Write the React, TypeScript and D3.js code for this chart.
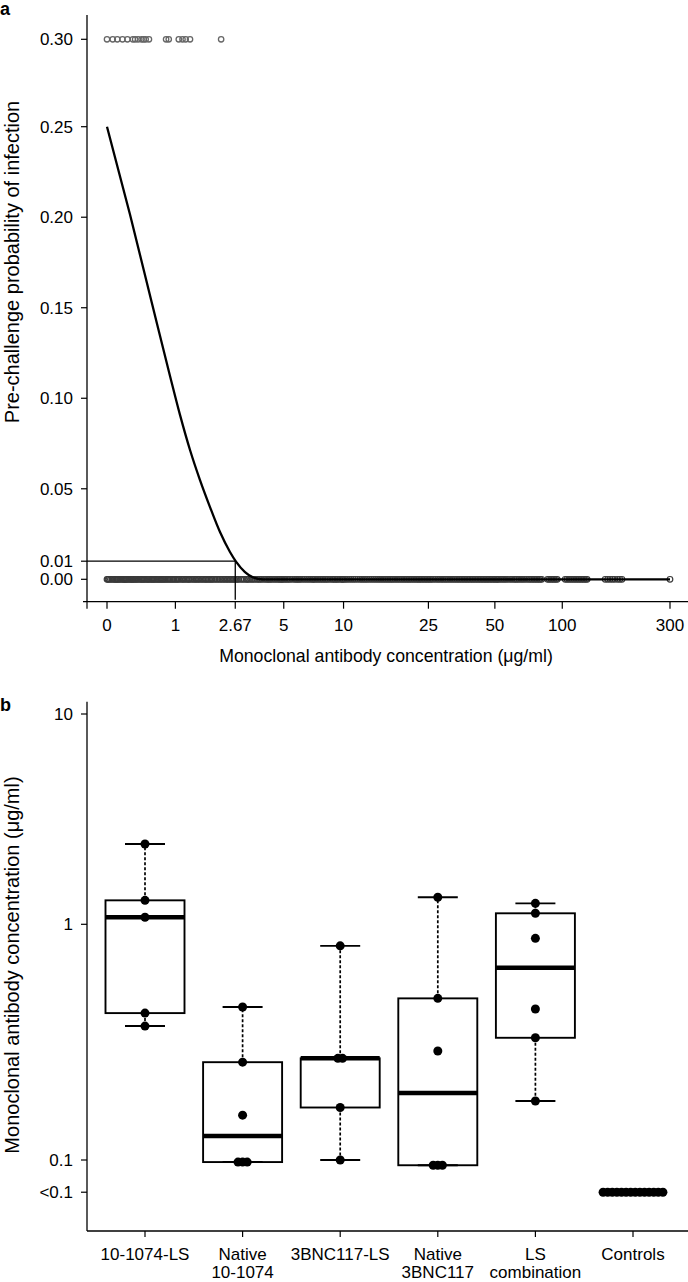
import React from "react";
import * as d3 from "d3";

const W = 688;
const H = 1282;
const FONT = "'Liberation Sans', Arial, Helvetica, sans-serif";

// ---------- Panel a data ----------
const xTickValuesA = [0, 1, 2.67, 5, 10, 25, 50, 100, 300];
const xTickLabelsA = ["0", "1", "2.67", "5", "10", "25", "50", "100", "300"];
const yTickValuesA = [0, 0.01, 0.05, 0.1, 0.15, 0.2, 0.25, 0.3];
const yTickLabelsA = ["0.00", "0.01", "0.05", "0.10", "0.15", "0.20", "0.25", "0.30"];

const infectedProb = 0.3;
const uninfectedProb = 0;

const infectedConc = [
  0, 0.06, 0.11, 0.17, 0.23, 0.3, 0.33, 0.37, 0.42, 0.45, 0.48, 0.53, 0.82, 0.87, 1.07, 1.15,
  1.22, 1.32, 2.18,
];

const uninfectedConc = [
  0, 0.01, 0.02, 0.035, 0.05, 0.065, 0.08, 0.09, 0.1, 0.11, 0.12, 0.135, 0.15, 0.165, 0.18, 0.19,
  0.2, 0.21, 0.22, 0.235, 0.25, 0.265, 0.28, 0.29, 0.3, 0.315, 0.33, 0.345, 0.36, 0.38, 0.4, 0.415,
  0.43, 0.445, 0.46, 0.48, 0.5, 0.515, 0.53, 0.55, 0.57, 0.585, 0.6, 0.62, 0.64, 0.66, 0.68, 0.7,
  0.72, 0.74, 0.76, 0.78, 0.8, 0.825, 0.85, 0.875, 0.9, 0.925, 0.95, 0.975, 1.0, 1.03, 1.05, 1.08,
  1.12, 1.15, 1.18, 1.21, 1.25, 1.28, 1.3, 1.34, 1.38, 1.42, 1.45, 1.49, 1.52, 1.56, 1.6, 1.64,
  1.68, 1.72, 1.75, 1.79, 1.83, 1.87, 1.9, 1.95, 2.0, 2.05, 2.1, 2.15, 2.2, 2.25, 2.3, 2.35, 2.4,
  2.45, 2.5, 2.55, 2.6, 2.65, 2.7, 2.75, 2.8, 2.88, 2.95, 3.02, 3.1, 3.15, 3.2, 3.28, 3.35, 3.42,
  3.5, 3.58, 3.65, 3.72, 3.8, 3.9, 4.0, 4.08, 4.15, 4.22, 4.3, 4.4, 4.5, 4.6, 4.7, 4.78, 4.85,
  4.92, 5.0, 5.1, 5.2, 5.3, 5.4, 5.55, 5.7, 5.8, 5.9, 6.0, 6.1, 6.25, 6.4, 6.55, 6.7, 6.85, 7.0,
  7.1, 7.2, 7.35, 7.5, 7.65, 7.8, 7.95, 8.1, 8.25, 8.4, 8.6, 8.8, 8.95, 9.1, 9.25, 9.4, 9.6, 9.8,
  9.9, 10, 10.2, 10.4, 10.65, 10.9, 11.15, 11.4, 11.7, 12, 12.25, 12.5, 12.75, 13, 13.3, 13.6,
  13.9, 14.2, 14.5, 14.8, 15.1, 15.4, 15.7, 16, 16.3, 16.6, 16.9, 17.2, 17.55, 17.9, 18.25, 18.6,
  18.95, 19.3, 19.65, 20, 20.35, 20.7, 21.1, 21.5, 21.9, 22.3, 22.65, 23, 23.4, 23.8, 24.2, 24.6,
  25, 25.4, 25.8, 26.3, 26.9, 27.5, 28, 28.6, 29.1, 29.7, 30.2, 30.8, 31.4, 32, 32.6, 33.2, 33.8,
  34.4, 35, 35.6, 36.2, 36.8, 37.4, 38, 38.6, 39.3, 39.9, 40.6, 41.3, 42, 42.7, 43.4, 44.1, 44.8,
  45.5, 46.2, 46.9, 47.7, 48.4, 49.2, 49.9, 50.7, 51.3, 52, 53, 54, 55, 56, 57.2, 58.5, 59.7, 61,
  62, 63, 64.2, 65.5, 66.7, 68, 69.5, 71, 72.2, 73.5, 74.7, 76, 77.2, 78.5, 79.7, 81, 86, 87.5,
  89, 90.5, 92, 93.5, 95, 103, 105, 107, 109, 111, 113, 115, 117, 119, 121, 123, 125, 127, 129,
  155, 159, 163, 167, 171, 176, 180, 184, 300,
];

const curveConc = [
  0, 0.2626, 0.578, 0.894, 1.096, 1.32, 1.567, 1.841, 2.144, 2.479, 2.698, 3.051, 3.393, 3.862,
  10, 50, 300,
];
const curveProb = [
  0.25, 0.2015, 0.1523, 0.1123, 0.0908, 0.0714, 0.0548, 0.0399, 0.0261, 0.0151, 0.0098, 0.004,
  0.0011, 0, 0, 0, 0,
];

const thresholdConc = 2.67;
const thresholdProb = 0.01;

// ---------- Panel b data ----------
const groupLines = [
  ["10-1074-LS"],
  ["Native", "10-1074"],
  ["3BNC117-LS"],
  ["Native", "3BNC117"],
  ["LS", "combination"],
  ["Controls"],
];
const groupKeys = ["10-1074-LS", "Native 10-1074", "3BNC117-LS", "Native 3BNC117", "LS combination", "Controls"];
const belowLimit = 0.073; // plotted position of "<0.1"

const g1074LS = [2.41, 1.3, 1.08, 0.42, 0.37];
const gNative1074 = [0.446, 0.26, 0.155, 0.098, 0.098, 0.098];
const g3BNCLS = [0.81, 0.27, 0.27, 0.167, 0.1];
const gNative3BNC = [1.344, 0.485, 0.29, 0.095, 0.095, 0.095];
const gLSCombo = [1.258, 1.128, 0.872, 0.437, 0.33, 0.178];
const gControls = [
  belowLimit, belowLimit, belowLimit, belowLimit, belowLimit, belowLimit, belowLimit,
  belowLimit, belowLimit, belowLimit, belowLimit, belowLimit, belowLimit, belowLimit,
];
const groupValues = [g1074LS, gNative1074, g3BNCLS, gNative3BNC, gLSCombo, gControls];
const groupHasBox = [true, true, true, true, true, false];

const yTickValuesB = [10, 1, 0.1, belowLimit];
const yTickLabelsB = ["10", "1", "0.1", "<0.1"];

function fivenum(vals: number[]) {
  const x = [...vals].sort((a, b) => a - b);
  const n = x.length;
  const n4 = Math.floor((n + 3) / 2) / 2;
  const d = [1, n4, (n + 1) / 2, n + 1 - n4, n];
  return d.map((di) => 0.5 * (x[Math.floor(di) - 1] + x[Math.ceil(di) - 1]));
}

export default function App() {
  // ----- panel a scales -----
  const xA = d3.scaleSymlog().constant(1).domain([0, 300]).range([107, 670]);
  const yA = d3.scaleLinear().domain([0, 0.25]).range([579.3, 126.7]);
  const axisAX = 87;
  const axisAY = 601.7;
  const yPos30 = 39.3;

  const curvePath = d3
    .line<number>()
    .x((_, i) => xA(curveConc[i]))
    .y((d) => yA(d))
    .curve(d3.curveMonotoneX)(curveProb) as string;

  // ----- panel b scales -----
  const xB = d3.scalePoint<string>().domain(groupKeys).range([145, 633]);
  const yB = d3.scaleLog().domain([0.1, 1, 10]).range([1160, 924.3, 714]);
  const boxW = 79;
  const capW = 40;
  const axisBX = 87;
  const axisBY = 1231;
  const tieGap = 4.6;

  return (
    <svg
      width={W}
      height={H}
      style={{ position: "absolute", left: 0, top: 0, background: "#fff" }}
      fontFamily={FONT}
    >
      <rect width={W} height={H} fill="#fff" />
      {/* ================= Panel a ================= */}
      <text x={0} y={15} fontSize={18} fontWeight="bold">a</text>

      {/* y axis */}
      <line x1={axisAX} x2={axisAX} y1={15} y2={axisAY} stroke="#000" strokeWidth={1.3} />
      {yTickValuesA.map((v, i) => {
        const y = v === infectedProb ? yPos30 : yA(v);
        return (
          <g key={"ya" + i}>
            <line x1={axisAX - 6} x2={axisAX} y1={y} y2={y} stroke="#000" strokeWidth={1.2} />
            <text x={73} y={y + 6} fontSize={17} textAnchor="end">
              {yTickLabelsA[i]}
            </text>
          </g>
        );
      })}
      <text transform={`translate(18.5,262) rotate(-90)`} fontSize={20} textAnchor="middle">
        Pre-challenge probability of infection
      </text>

      {/* x axis */}
      <line x1={83} x2={W} y1={axisAY} y2={axisAY} stroke="#000" strokeWidth={1.3} />
      <line x1={axisAX} x2={axisAX} y1={axisAY} y2={axisAY + 7} stroke="#000" strokeWidth={1.2} />
      {xTickValuesA.map((v, i) => (
        <g key={"xa" + i}>
          <line x1={xA(v)} x2={xA(v)} y1={axisAY} y2={axisAY + 7} stroke="#000" strokeWidth={1.2} />
          <text x={xA(v)} y={630.7} fontSize={17} textAnchor="middle">
            {xTickLabelsA[i]}
          </text>
        </g>
      ))}
      <text x={386} y={662} fontSize={17.7} textAnchor="middle">
        Monoclonal antibody concentration (μg/ml)
      </text>

      {/* points */}
      {uninfectedConc.map((c, i) => (
        <circle key={"u" + i} cx={xA(c)} cy={yA(uninfectedProb)} r={2.8} fill="none" stroke="#3a3a3a" strokeWidth={1.2} />
      ))}
      {infectedConc.map((c, i) => (
        <circle key={"inf" + i} cx={xA(c)} cy={yPos30} r={2.7} fill="none" stroke="#666" strokeWidth={1.3} />
      ))}

      {/* threshold lines */}
      <line x1={axisAX} x2={xA(thresholdConc)} y1={yA(thresholdProb)} y2={yA(thresholdProb)} stroke="#000" strokeWidth={1.3} />
      <line x1={xA(thresholdConc)} x2={xA(thresholdConc)} y1={yA(thresholdProb)} y2={axisAY - 2} stroke="#000" strokeWidth={1.3} />

      {/* fitted curve */}
      <path d={curvePath} fill="none" stroke="#000" strokeWidth={2.3} />

      {/* ================= Panel b ================= */}
      <text x={0} y={711} fontSize={18} fontWeight="bold">b</text>

      <line x1={axisBX} x2={axisBX} y1={701.7} y2={axisBY} stroke="#000" strokeWidth={1.3} />
      {yTickValuesB.map((v, i) => (
        <g key={"yb" + i}>
          <line x1={axisBX - 6} x2={axisBX} y1={yB(v)} y2={yB(v)} stroke="#000" strokeWidth={1.2} />
          <text x={73} y={yB(v) + 6} fontSize={17} textAnchor="end">
            {yTickLabelsB[i]}
          </text>
        </g>
      ))}
      <text transform={`translate(18.5,965) rotate(-90)`} fontSize={20} textAnchor="middle">
        Monoclonal antibody concentration (μg/ml)
      </text>

      <line x1={axisBX} x2={W} y1={axisBY} y2={axisBY} stroke="#000" strokeWidth={1.3} />
      {groupKeys.map((k, i) => (
        <g key={"xb" + i}>
          <line x1={xB(k)!} x2={xB(k)!} y1={axisBY} y2={axisBY + 6} stroke="#000" strokeWidth={1.2} />
          {groupLines[i].map((ln, j) => (
            <text key={j} x={xB(k)!} y={1260 + j * 18} fontSize={17} textAnchor="middle">
              {ln}
            </text>
          ))}
        </g>
      ))}

      {groupKeys.map((k, gi) => {
        const vals = groupValues[gi];
        const cx = xB(k)!;
        const f = fivenum(vals);
        const counts = d3.rollup(vals, (v) => v.length, (d) => d);
        const seen = new Map<number, number>();
        return (
          <g key={"box" + gi}>
            {groupHasBox[gi] && (
              <g>
                <line x1={cx} x2={cx} y1={yB(f[3])} y2={yB(f[4])} stroke="#000" strokeWidth={1.7} strokeDasharray="3,2" />
                <line x1={cx} x2={cx} y1={yB(f[1])} y2={yB(f[0])} stroke="#000" strokeWidth={1.7} strokeDasharray="3,2" />
                <line x1={cx - capW / 2} x2={cx + capW / 2} y1={yB(f[4])} y2={yB(f[4])} stroke="#000" strokeWidth={1.9} />
                <line x1={cx - capW / 2} x2={cx + capW / 2} y1={yB(f[0])} y2={yB(f[0])} stroke="#000" strokeWidth={1.9} />
                <rect x={cx - boxW / 2} y={yB(f[3])} width={boxW} height={yB(f[1]) - yB(f[3])} fill="none" stroke="#000" strokeWidth={1.9} />
                <line x1={cx - boxW / 2} x2={cx + boxW / 2} y1={yB(f[2])} y2={yB(f[2])} stroke="#000" strokeWidth={4.5} />
              </g>
            )}
            {vals.map((v, i) => {
              const n = counts.get(v) || 1;
              const idx = seen.get(v) || 0;
              seen.set(v, idx + 1);
              const off = (idx - (n - 1) / 2) * tieGap;
              return <circle key={i} cx={cx + off} cy={yB(v)} r={4.5} fill="#000" />;
            })}
          </g>
        );
      })}
    </svg>
  );
}
